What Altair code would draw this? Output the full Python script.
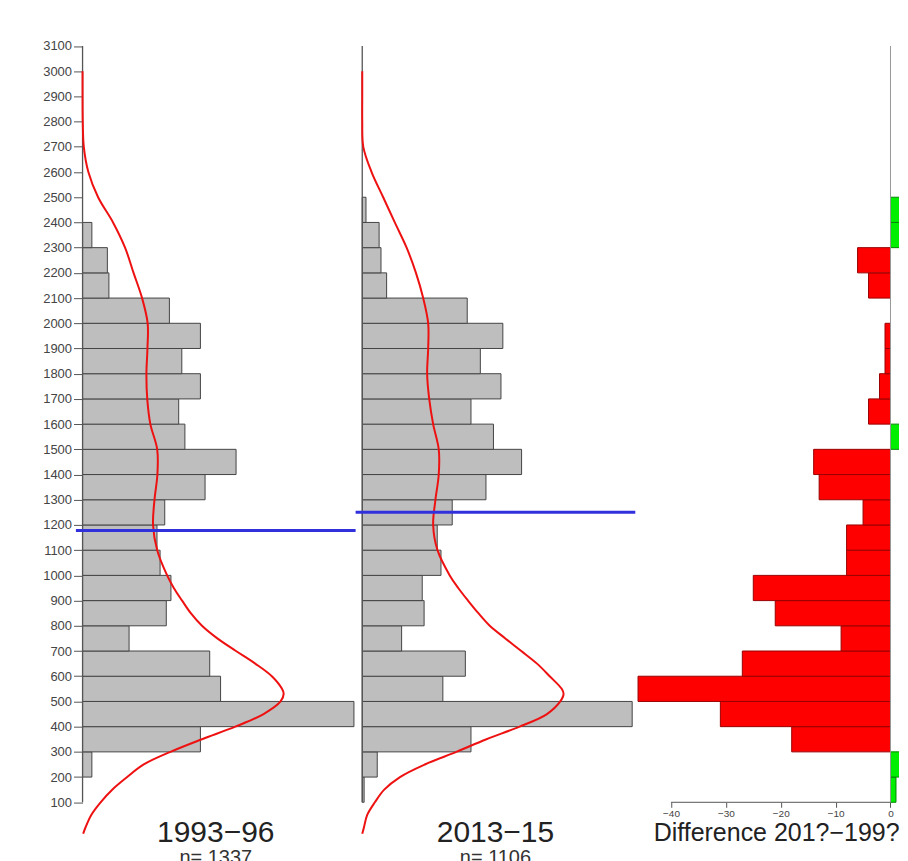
import altair as alt
import pandas as pd
import numpy as np

# ---- data ----
bin_lo = [100, 200, 300, 400, 500, 600, 700, 800, 900, 1000, 1100, 1200,
          1300, 1400, 1500, 1600, 1700, 1800, 1900, 2000, 2100, 2200, 2300, 2400]
bin_hi = [200, 300, 400, 500, 600, 700, 800, 900, 1000, 1100, 1200, 1300,
          1400, 1500, 1600, 1700, 1800, 1900, 2000, 2100, 2200, 2300, 2400, 2500]
count_1993 = [0, 6, 76, 175, 89, 82, 30, 54, 57, 50, 48, 53,
              79, 99, 66, 62, 76, 64, 76, 56, 17, 16, 6, 0]
count_2013 = [1, 8, 58, 144, 43, 55, 21, 33, 32, 42, 40, 48,
              66, 85, 70, 58, 74, 63, 75, 56, 13, 10, 9, 2]
n_1993 = 1337
n_2013 = 1106
mean_1993 = 1178
mean_2013 = 1250

# density curves (percent scale)
dens_y = [-25, 0, 50, 100, 150, 200, 250, 300, 350, 400, 450, 500, 530, 550,
          600, 650, 700, 750, 800, 850, 900, 950, 1000, 1100, 1200, 1300, 1400,
          1500, 1600, 1700, 1800, 1900, 2000, 2100, 2200, 2300, 2400, 2500,
          2600, 2700, 2800, 2900, 3000]
dens_1993 = [0.03, 0.14, 0.42, 0.87, 1.43, 2.15, 2.95, 4.24, 5.76, 7.37, 8.73, 9.55, 9.70, 9.62,
             9.13, 8.33, 7.40, 6.50, 5.76, 5.22, 4.80, 4.40, 4.08, 3.60, 3.40, 3.47, 3.61,
             3.60, 3.27, 3.12, 3.08, 3.13, 3.14, 2.87, 2.46, 2.05, 1.47, 0.75,
             0.28, 0.06, 0.01, 0.0, 0.0]
dens_2013 = [0.0, 0.08, 0.24, 0.61, 1.06, 1.82, 3.02, 4.54, 5.99, 7.59, 8.91, 9.55, 9.71, 9.62,
             9.04, 8.43, 7.67, 6.90, 6.15, 5.60, 5.10, 4.63, 4.22, 3.63, 3.42, 3.53, 3.69,
             3.69, 3.42, 3.23, 3.13, 3.18, 3.18, 2.94, 2.59, 2.14, 1.57, 1.01,
             0.45, 0.05, 0.0, 0.0, 0.0]

y_ticks = [100, 200, 300, 400, 500, 600, 700, 800, 900, 1000, 1100, 1200, 1300,
           1400, 1500, 1600, 1700, 1800, 1900, 2000, 2100, 2200, 2300, 2400,
           2500, 2600, 2700, 2800, 2900, 3000, 3100]
diff_ticks = [-40, -30, -20, -10, 0]

title_1993 = "1993\u221296"
title_2013 = "2013\u221215"
title_diff = "Difference 201?\u2212199?"

# ---- tables ----
hist = pd.DataFrame({"lo": bin_lo, "hi": bin_hi, "c93": count_1993, "c13": count_2013})
hist["p93"] = hist["c93"] / n_1993 * 100
hist["p13"] = hist["c13"] / n_2013 * 100
hist["diff"] = hist["c13"] - hist["c93"]
hist["sign"] = np.where(hist["diff"] > 0, "pos", "neg")
hist["zero"] = 0.0

dens = pd.DataFrame({"y": dens_y, "d93": dens_1993, "d13": dens_2013})

FONT = "Liberation Sans"
W = 280
W3 = 264
H = 792

yscale = alt.Scale(domain=[-28, 3110], nice=False, zero=False)
xscale = alt.Scale(domain=[-0.32, 13.17], nice=False, zero=False)
dscale = alt.Scale(domain=[-46.5, 1.55], nice=False, zero=False)

y_axis_left = alt.Axis(values=y_ticks, format="d", title=None, grid=False, domain=False,
                       offset=-6.6, tickSize=9, tickColor="#555", labelPadding=2,
                       labelFont=FONT, labelFontSize=13, labelColor="#444",
                       labelOverlap=False)

axis_line_df = pd.DataFrame({"x": [0.0], "y": [y_ticks[0]], "y2": [y_ticks[-1]]})


def hist_panel(pcol, ccol, dcol, mean, title, sub, yaxis):
    bars = alt.Chart(hist).transform_filter(alt.datum[ccol] > 0).mark_rect(
        fill="#BEBEBE", stroke="#444", strokeWidth=1
    ).encode(
        x=alt.X("zero:Q", scale=xscale, axis=None),
        x2=alt.X2(f"{pcol}:Q"),
        y=alt.Y("lo:Q", scale=yscale, axis=yaxis),
        y2=alt.Y2("hi:Q"),
    )
    vline = alt.Chart(axis_line_df).mark_rule(color="#555", strokeWidth=1.3).encode(
        x=alt.X("x:Q", scale=xscale, axis=None),
        y=alt.Y("y:Q", scale=yscale, axis=yaxis),
        y2=alt.Y2("y2:Q"),
    )
    curve = alt.Chart(dens).mark_line(color="#EE1111", strokeWidth=2,
                                      interpolate="catmull-rom").encode(
        x=alt.X(f"{dcol}:Q", scale=xscale, axis=None),
        y=alt.Y("y:Q", scale=yscale, axis=yaxis),
        order=alt.Order("y:Q"),
    )
    mline = alt.Chart(pd.DataFrame({"m": [mean]})).mark_rule(
        color="#3030DD", strokeWidth=3
    ).encode(y=alt.Y("m:Q", scale=yscale, axis=yaxis))
    return alt.layer(bars, vline, curve, mline).properties(
        width=W, height=H,
        title=alt.TitleParams(text=title, subtitle=sub, orient="bottom", frame="group",
                              anchor="middle", font=FONT, fontSize=30, fontWeight="normal",
                              color="#222", subtitleFont=FONT, subtitleFontSize=20,
                              subtitleColor="#333", subtitlePadding=0, offset=-20),
    )


left = hist_panel("p93", "c93", "d93", mean_1993, title_1993, f"n= {n_1993}", y_axis_left)
middle = hist_panel("p13", "c13", "d13", mean_2013, title_2013, f"n= {n_2013}", None)

x_axis_diff = alt.Axis(values=diff_ticks, format="d", title=title_diff, grid=False,
                       domain=False, offset=-32.3, tickSize=5, tickColor="#555",
                       labelFont=FONT, labelFontSize=10, labelColor="#444", labelPadding=1,
                       titleFont=FONT, titleFontSize=25, titleFontWeight="normal",
                       titleColor="#222", titlePadding=2, titleX=141)

dbars = alt.Chart(hist).transform_filter("datum.diff != 0").mark_rect(
    strokeWidth=1, clip=True
).encode(
    x=alt.X("zero:Q", scale=dscale, axis=x_axis_diff),
    x2=alt.X2("diff:Q"),
    y=alt.Y("lo:Q", scale=yscale, axis=None),
    y2=alt.Y2("hi:Q"),
    fill=alt.Fill("sign:N", scale=alt.Scale(domain=["neg", "pos"], range=["#FF0000", "#00EE00"]),
                  legend=None),
    stroke=alt.Stroke("sign:N", scale=alt.Scale(domain=["neg", "pos"], range=["#990000", "#008800"]),
                      legend=None),
)
zline = alt.Chart(axis_line_df).mark_rule(color="#999", strokeWidth=1).encode(
    x=alt.X("x:Q", scale=dscale, axis=x_axis_diff),
    y=alt.Y("y:Q", scale=yscale, axis=None),
    y2=alt.Y2("y2:Q"),
)
xaxis_line = alt.Chart(pd.DataFrame({"a": [diff_ticks[0]], "b": [diff_ticks[-1]], "y": [y_ticks[0]]})).mark_rule(
    color="#555", strokeWidth=1
).encode(
    x=alt.X("a:Q", scale=dscale, axis=x_axis_diff),
    x2=alt.X2("b:Q"),
    y=alt.Y("y:Q", scale=yscale, axis=None),
)
right = alt.layer(dbars, zline, xaxis_line).properties(width=W3, height=H)

chart = alt.hconcat(left, middle, right, spacing=0, bounds="flush").properties(
    padding={"top": 31, "left": 34, "right": 0, "bottom": 0}
).configure_view(stroke=None)

chart.save("out.html", embed_options={"renderer": "svg", "actions": False})
